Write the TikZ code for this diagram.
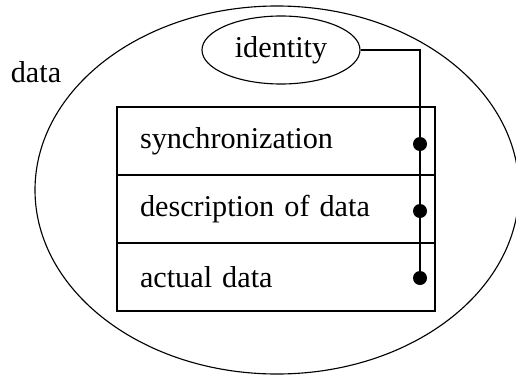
\documentclass[tikz,border=0pt]{standalone}
\usepackage{fontspec}
\setmainfont{Liberation Serif}
\usepackage{tikz}
\usetikzlibrary{shapes.geometric}

\begin{document}
\begin{tikzpicture}[line width=0.8pt, font=\fontsize{21.5}{25}\selectfont,
  row/.style={draw, rectangle, minimum width=7.95cm, minimum height=1.7cm,
    text width=6.8cm, inner xsep=0.575cm, align=left},
  dot/.style={circle, fill, inner sep=0pt, minimum size=0.35cm}]

  \useasboundingbox (0,0) rectangle (12.9,-9.35);

  % Define outer ellipse and its label
  \node[draw, ellipse, minimum width=12.1cm, minimum height=9.2cm] (outer) at (6.925,-4.75) {};
  \node (lbl) at (0.9,-1.8) {data};

  % Define identity and the three rows
  \node[draw, ellipse, minimum width=3.95cm, minimum height=1.7cm] (id) at (7.025,-1.25) {identity};
  \node[row] (sync) at (6.9,-3.525) {synchronization};
  \node[row] (desc) at (6.9,-5.225) {description of data};
  \node[row] (act) at (6.9,-6.925) {actual data};

  % Define dots on the line
  \node[dot] (d1) at (10.5,-3.6) {};
  \node[dot] (d2) at (10.5,-5.275) {};
  \node[dot] (d3) at (10.5,-6.95) {};
  \coordinate (bend) at (10.5,-1.25);

  % Draw line from identity through the dots
  \draw (id.east) -- (bend) -- (d1.center) -- (d2.center) -- (d3.center);
\end{tikzpicture}
\end{document}
